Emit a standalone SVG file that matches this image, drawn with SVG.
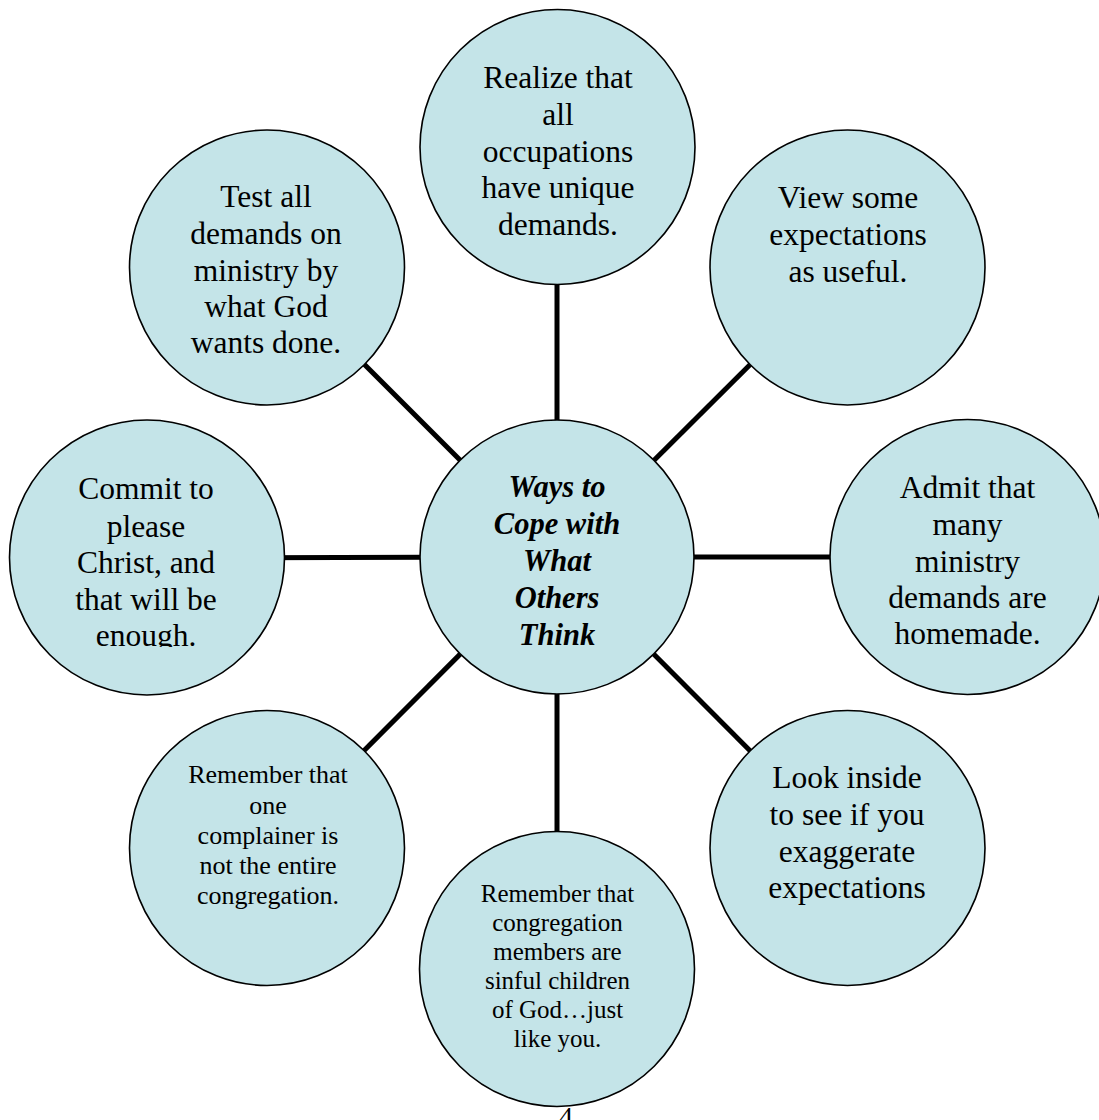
<svg xmlns="http://www.w3.org/2000/svg" width="1099" height="1120" viewBox="0 0 1099 1120">
<style>
.node circle{fill:#c4e4e8;stroke:#000;stroke-width:1.6}
.conn line{stroke:#000;stroke-width:5}
text{font-family:"Liberation Serif","Times New Roman",serif;fill:#000;text-anchor:middle}
.big{font-size:31.5px}
.small{font-size:26px}
.smaller{font-size:25px}
.title{font-size:30.5px;font-weight:bold;font-style:italic}
</style>
<defs>
<clipPath id="clipLeft"><rect x="0" y="0" width="300" height="647"/></clipPath>
</defs>
<rect width="1099" height="1120" fill="#fff"/>
<g id="connectors" class="conn">
<line x1="557" y1="557" x2="557" y2="147"/>
<line x1="557" y1="557" x2="847" y2="268"/>
<line x1="557" y1="557" x2="967" y2="557"/>
<line x1="557" y1="557" x2="847" y2="848"/>
<line x1="557" y1="557" x2="557" y2="969"/>
<line x1="557" y1="557" x2="267" y2="848"/>
<line x1="557" y1="557" x2="147" y2="558"/>
<line x1="557" y1="557" x2="267" y2="267"/>
</g>
<g id="node-center" class="node">
<circle cx="557" cy="557" r="137"/>
<text class="title"><tspan x="557" y="497">Ways to</tspan><tspan x="557" y="534">Cope with</tspan><tspan x="557" y="571">What</tspan><tspan x="557" y="608">Others</tspan><tspan x="557" y="645">Think</tspan></text>
</g>
<g id="node-top" class="node">
<circle cx="557.5" cy="147" r="137.5"/>
<text class="big"><tspan x="558" y="88">Realize that</tspan><tspan x="558" y="125">all</tspan><tspan x="558" y="161.5">occupations</tspan><tspan x="558" y="198">have unique</tspan><tspan x="558" y="234.5">demands.</tspan></text>
</g>
<g id="node-top-right" class="node">
<circle cx="847.5" cy="267.5" r="137.5"/>
<text class="big"><tspan x="848" y="208">View some</tspan><tspan x="848" y="245">expectations</tspan><tspan x="848" y="282">as useful.</tspan></text>
</g>
<g id="node-right" class="node">
<circle cx="967.5" cy="557" r="137.5"/>
<text class="big"><tspan x="967.5" y="498">Admit that</tspan><tspan x="967.5" y="535">many</tspan><tspan x="967.5" y="572">ministry</tspan><tspan x="967.5" y="608">demands are</tspan><tspan x="967.5" y="644">homemade.</tspan></text>
</g>
<g id="node-bottom-right" class="node">
<circle cx="847.5" cy="848" r="137.5"/>
<text class="big"><tspan x="847" y="788">Look inside</tspan><tspan x="847" y="825">to see if you</tspan><tspan x="847" y="862">exaggerate</tspan><tspan x="847" y="898">expectations</tspan></text>
</g>
<g id="node-bottom" class="node">
<circle cx="557" cy="969" r="137.5"/>
<text class="smaller"><tspan x="557.5" y="902">Remember that</tspan><tspan x="557.5" y="931">congregation</tspan><tspan x="557.5" y="960">members are</tspan><tspan x="557.5" y="989">sinful children</tspan><tspan x="557.5" y="1018">of God…just</tspan><tspan x="557.5" y="1047">like you.</tspan></text>
</g>
<g id="node-bottom-left" class="node">
<circle cx="267" cy="848" r="137.5"/>
<text class="small"><tspan x="268" y="783">Remember that</tspan><tspan x="268" y="813.5">one</tspan><tspan x="268" y="844">complainer is</tspan><tspan x="268" y="874">not the entire</tspan><tspan x="268" y="904">congregation.</tspan></text>
</g>
<g id="node-left" class="node">
<circle cx="147" cy="557.5" r="137.5"/>
<text class="big" clip-path="url(#clipLeft)"><tspan x="146" y="499">Commit to</tspan><tspan x="146" y="537">please</tspan><tspan x="146" y="573">Christ, and</tspan><tspan x="146" y="610">that will be</tspan><tspan x="146" y="645.5">enough.</tspan></text>
</g>
<g id="node-top-left" class="node">
<circle cx="267" cy="267.5" r="137.5"/>
<text class="big"><tspan x="266" y="207">Test all</tspan><tspan x="266" y="244">demands on</tspan><tspan x="266" y="281">ministry by</tspan><tspan x="266" y="317">what God</tspan><tspan x="266" y="353">wants done.</tspan></text>
</g>
<text x="566" y="1126" style="font-size:28px">4</text>
</svg>
